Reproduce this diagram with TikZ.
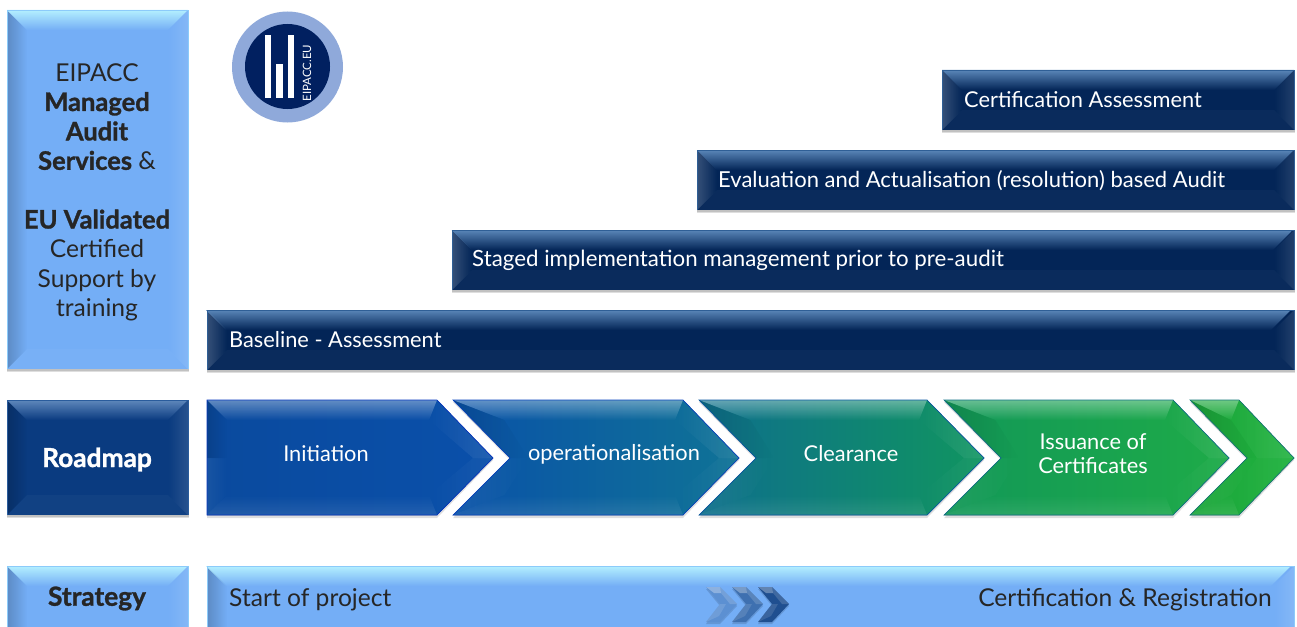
\documentclass[tikz,border=0pt]{standalone}
\usepackage{fontspec}
\setmainfont{Lato}[BoldFeatures={FakeBold=1.2}]
\usetikzlibrary{fadings}
\definecolor{lightbase}{HTML}{74AEF6}
\definecolor{lighttop}{HTML}{B4F0FF}
\definecolor{lightedge}{HTML}{8CCBFA}
\definecolor{barbase}{HTML}{032557}
\definecolor{bartop}{HTML}{5A86B8}
\definecolor{baredge}{HTML}{2F5F96}
\definecolor{roadbase}{HTML}{0A3B80}
\definecolor{roadtop}{HTML}{5F88BC}
\definecolor{roadedge}{HTML}{2A5C9C}
\definecolor{logoring}{HTML}{8FA9DA}
\definecolor{logocore}{HTML}{012060}
\definecolor{darktext}{HTML}{262626}
\definecolor{cha}{HTML}{0A4A9E}
\definecolor{chb}{HTML}{0A50AA}
\definecolor{chc}{HTML}{0A52A8}
\definecolor{chd}{HTML}{0F7396}
\definecolor{che}{HTML}{0E6F8C}
\definecolor{chf}{HTML}{109560}
\definecolor{chg}{HTML}{129858}
\definecolor{chh}{HTML}{1EAB48}
\definecolor{chi}{HTML}{1CA63C}
\definecolor{chj}{HTML}{20B23E}
\definecolor{sca}{HTML}{5C90D2}
\definecolor{scb}{HTML}{3E70B0}
\definecolor{scc}{HTML}{1F4F90}
\newcommand{\bb}[1]{{\bfseries\fontsize{25.5}{29.4}\selectfont #1}}
\tikzset{
  lighttext/.style={text=darktext,inner sep=0pt,font=\fontsize{24.6}{29.4}\selectfont,align=center},
  headtext/.style={inner sep=0pt,font=\bfseries\fontsize{26.3}{29}\selectfont},
  bartext/.style={text=white,inner sep=0pt,font=\fontsize{21.8}{24}\selectfont,anchor=west},
  chevtext/.style={text=white,inner sep=0pt,font=\fontsize{21.8}{24}\selectfont,align=center},
  softshadow/.style={fill=black,fill opacity=.13},
}
% name x1 y1 x2 y2 base top edge leftoverlay
\newcommand{\bevbox}[9]{%
  \coordinate (#1) at ({(#2+#4)/2},{(#3+#5)/2});
  \fill[softshadow] (#2,#3+2) rectangle (#4+1,#5+3);
  \fill[softshadow] (#2,#3+1) rectangle (#4+.5,#5+1.5);
  \fill[#6] (#2,#3) rectangle (#4,#5);
  \fill[#9,fill opacity=.2,path fading=east] (#2,#3) -- (#2+20,#3+20) -- (#2+20,#5-20) -- (#2,#5) -- cycle;
  \fill[white,fill opacity=.12,path fading=west] (#4,#3) -- (#4-20,#3+20) -- (#4-20,#5-20) -- (#4,#5) -- cycle;
  \fill[#7,path fading=south] (#2,#3) -- (#4,#3) -- (#4-20,#3+20) -- (#2+20,#3+20) -- cycle;
  \fill[white,fill opacity=.03] (#2,#5) -- (#4,#5) -- (#4-20,#5-20) -- (#2+20,#5-20) -- cycle;
  \draw[#8,line width=.8pt] (#2,#5) -- (#2,#3) -- (#4,#3) -- (#4,#5);
}
% name xleft xshoulder xtip notch col1 col2 meetleft meetright
\newcommand{\chev}[9]{%
  \coordinate (#1) at ({(#2+#4)/2},458);
  \fill[softshadow] (#2,402) -- (#3,402) -- (#4,460) -- (#3,518) -- (#2,518) -- (#2+#5,460) -- cycle;
  \fill[left color=#6,right color=#7] (#2,400) -- (#3,400) -- (#4,458) -- (#3,515) -- (#2,515) -- (#2+#5,458) -- cycle;
  \fill[black,fill opacity=.12,path fading=east] (#2,400) -- ({min(#2+#5*.55+20,#3-8)},420) -- (#8,458) -- (#2+#5,458) -- cycle;
  \fill[white,fill opacity=.06,path fading=east] (#2,515) -- ({min(#2+#5*.55+20,#3-8)},495) -- (#8,458) -- (#2+#5,458) -- cycle;
  \fill[white,fill opacity=.10,path fading=west] (#3,400) -- (#4,458) -- (#9,458) -- (#3-8,420) -- cycle;
  \fill[white,fill opacity=.05,path fading=west] (#3,515) -- (#4,458) -- (#9,458) -- (#3-8,495) -- cycle;
  \fill[white,fill opacity=.36,path fading=south] (#2,400) -- (#3,400) -- (#3-8,420) -- ({min(#2+#5*.55+20,#3-8)},420) -- cycle;
  \fill[white,fill opacity=.10,path fading=north] (#2,515) -- (#3,515) -- (#3-8,495) -- ({min(#2+#5*.55+20,#3-8)},495) -- cycle;
  \draw[#6!60!#7!70!blue,line width=.7pt] (#2,400) -- (#3,400) -- (#4,458) -- (#3,515) -- (#2,515) -- (#2+#5,458) -- cycle;
}
% small chevron: name x colour
\newcommand{\smallchev}[3]{%
  \coordinate (#1) at (#2+15,604);
  \fill[softshadow] (#2,589) -- (#2+14,589) -- (#2+31,606) -- (#2+14,624) -- (#2,624) -- (#2+14,606) -- cycle;
  \fill[#3] (#2,587) -- (#2+14,587) -- (#2+31,604) -- (#2+14,622) -- (#2,622) -- (#2+14,604) -- cycle;
  \fill[white,fill opacity=.3] (#2,587) -- (#2+14,587) -- (#2+15,593) -- (#2+8,593) -- cycle;
  \fill[white,fill opacity=.15] (#2+14,587) -- (#2+31,604) -- (#2+24,604) -- (#2+15,593) -- cycle;
  \fill[white,fill opacity=.12] (#2,622) -- (#2+14,604) -- (#2+20,604) -- (#2+13,616) -- cycle;
}
\begin{document}
\begin{tikzpicture}[x=1pt,y=-1pt]
\useasboundingbox (0,0) rectangle (1297,626);
\clip (0,0) rectangle (1297,626);
% left column
\bevbox{auditbox}{7}{10}{188}{369}{lightbase}{lighttop}{lightedge}{black}
\bevbox{roadbox}{7}{400}{188}{515}{roadbase}{roadtop}{roadedge}{black}
\bevbox{stratbox}{7}{566}{188}{650}{lightbase}{lighttop}{lightedge}{black}
% bars
\bevbox{certbar}{942}{70}{1294}{130}{barbase}{bartop}{baredge}{white}
\bevbox{evalbar}{697}{150}{1294}{210}{barbase}{bartop}{baredge}{white}
\bevbox{stagebar}{452}{230}{1294}{290}{barbase}{bartop}{baredge}{white}
\bevbox{basebar}{207}{310}{1294}{370}{barbase}{bartop}{baredge}{white}
\bevbox{startbar}{207}{566}{1294}{650}{lightbase}{lighttop}{lightedge}{black}
% chevrons
\chev{chevinit}{207}{437}{493}{0}{cha}{chb}{227}{473}
\chev{chevoper}{453}{683}{739}{57}{chc}{chd}{528}{719}
\chev{chevclear}{699}{927}{984}{57}{che}{chf}{774}{964}
\chev{chevissue}{944}{1173}{1229}{57}{chg}{chh}{1019}{1209}
\chev{chevlast}{1190}{1239}{1294}{57}{chi}{chj}{1257}{1257}
\smallchev{schevone}{706}{sca}
\smallchev{schevtwo}{732}{scb}
\smallchev{schevthree}{758}{scc}
% logo
\node[circle,fill=logoring,minimum size=111pt,inner sep=0pt] (logoring) at (287.5,67) {};
\node[circle,fill=logocore,minimum size=85pt,inner sep=0pt] (logocore) at (287.5,66.5) {};
\fill[white] (265,35) rectangle (271,98);
\fill[white] (276,64) rectangle (283,98);
\fill[white] (288,35) rectangle (294,98);
\node[text=white,rotate=90,inner sep=0pt,font=\fontsize{11.5}{12}\selectfont] (logotext) at (307,73) {EIPACC.EU};
% texts
\node[lighttext] (audittext) at (97,192.5) {EIPACC\\\bb{Managed}\\\bb{Audit}\\\bb{Services} \&\\[29.4pt]\bb{EU Validated}\\Certified\\Support by\\training};
\node[headtext,text=white] (roadtext) at (97,459.5) {Roadmap};
\node[headtext,text=darktext] (strattext) at (97,598.5) {Strategy};
\node[bartext] (certtext) at (964,100) {Certification Assessment};
\node[bartext,font=\fontsize{22}{24}\selectfont] (evaltext) at (718,180.5) {Evaluation and Actualisation (resolution) based Audit};
\node[bartext,font=\fontsize{22.3}{24}\selectfont] (stagetext) at (472,260) {Staged implementation management prior to pre-audit};
\node[bartext] (basetext) at (229,340) {Baseline - Assessment};
\node[chevtext] (inittext) at (326,454) {Initiation};
\node[chevtext] (opertext) at (614,454) {operationalisation};
\node[chevtext] (cleartext) at (851,453.5) {Clearance};
\node[chevtext] (issuetext) at (1093,453.5) {Issuance of\\Certificates};
\node[lighttext,anchor=west] (starttext) at (229,600) {Start of project};
\node[lighttext,anchor=east] (regtext) at (1272,600) {Certification \& Registration};
\end{tikzpicture}
\end{document}
